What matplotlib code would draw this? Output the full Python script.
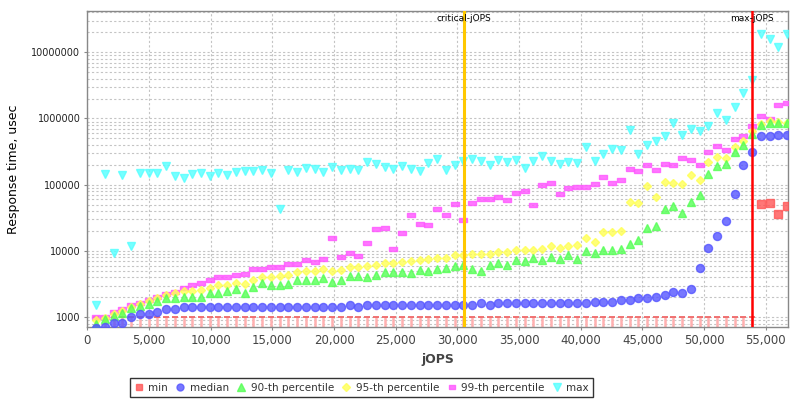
import matplotlib
matplotlib.use('Agg')
import matplotlib.pyplot as plt
import matplotlib.transforms as mtransforms
from matplotlib.lines import Line2D
from matplotlib.ticker import FixedLocator, FuncFormatter, LogLocator, NullFormatter

# --- data (jOPS vs response time, usec) ---
jops = [709, 1418, 2127, 2836, 3545, 4254, 4963, 5672, 6381, 7090,
        7799, 8508, 9217, 9926, 10635, 11344, 12053, 12762, 13471, 14180,
        14889, 15598, 16307, 17016, 17725, 18434, 19143, 19852, 20561, 21270,
        21979, 22688, 23397, 24106, 24815, 25524, 26233, 26942, 27651, 28360,
        29069, 29778, 30487, 31196, 31905, 32614, 33323, 34032, 34741, 35450,
        36159, 36868, 37577, 38286, 38995, 39704, 40413, 41122, 41831, 42540,
        43249, 43958, 44667, 45376, 46085, 46794, 47503, 48212, 48921, 49630,
        50339, 51048, 51757, 52466, 53175, 53884, 54593, 55302, 56011, 56720]

min_rt = [1000, 1000, 1000, 1000, 1000, 1000, 1000, 1000, 1000, 1000,
          1000, 1000, 1000, 1000, 1000, 1000, 1000, 1000, 1000, 1000,
          1000, 1000, 1000, 1000, 1000, 1000, 1000, 1000, 1000, 1000,
          1000, 1000, 1000, 1000, 1000, 1000, 1000, 1000, 1000, 1000,
          1000, 1000, 1000, 1000, 1000, 1000, 1000, 1000, 1000, 1000,
          1000, 1000, 1000, 1000, 1000, 1000, 1000, 1000, 1000, 1000,
          1000, 1000, 1000, 1000, 1000, 1000, 1000, 1000, 1000, 1000,
          1000, 1000, 1000, 1000, 1000, 1000, 51700, 52970, 36540, 47220]

median_rt = [680, 722, 812, 812, 1010, 1122, 1122, 1215, 1320, 1320,
             1430, 1430, 1430, 1430, 1430, 1430, 1430, 1430, 1430, 1415,
             1415, 1415, 1415, 1415, 1415, 1415, 1415, 1415, 1415, 1517,
             1415, 1517, 1517, 1517, 1517, 1517, 1517, 1517, 1517, 1533,
             1533, 1533, 1533, 1533, 1626, 1533, 1626, 1626, 1626, 1626,
             1626, 1626, 1626, 1626, 1626, 1626, 1626, 1719, 1719, 1719,
             1823, 1823, 1935, 1935, 2046, 2147, 2432, 2326, 2644, 5600,
             10990, 17010, 28050, 72400, 196200, 311300, 548000, 548000, 567700, 567700]

p90_rt = [801, 933, 1046, 1149, 1367, 1480, 1587, 1762, 1935, 1935,
          2046, 2046, 2024, 2350, 2350, 2493, 2644, 2350, 2835, 3258,
          3103, 3103, 3212, 3652, 3652, 3652, 3954, 3373, 3652, 4237,
          4150, 4011, 4300, 4821, 4821, 4821, 4710, 5166, 4940, 5408,
          5541, 6040, 6085, 5353, 4909, 6085, 6480, 6085, 7443, 7063,
          7925, 7316, 8200, 7650, 8790, 7570, 9900, 9420, 10280, 10350,
          10610, 12620, 14650, 21990, 24090, 43460, 47730, 37040, 54300, 69180,
          144900, 193600, 203200, 308200, 397000, 587500, 794700, 843000, 843000, 843000]

p95_rt = [900, 960, 1121, 1245, 1445, 1587, 1762, 1954, 2147, 2301,
          2466, 2493, 2608, 2796, 3070, 3070, 3258, 3177, 3652, 3984,
          4011, 4237, 4390, 4773, 4940, 4940, 5297, 5044, 5166, 5736,
          5736, 5940, 6150, 6660, 6524, 6823, 6990, 7316, 7499, 7925,
          7838, 8610, 8790, 8915, 9010, 9110, 9660, 9660, 10350, 10350,
          10460, 10830, 11780, 11090, 11780, 12450, 15870, 13520, 19210, 19350,
          19820, 55450, 52420, 95550, 65900, 109800, 105000, 102500, 138600, 116500,
          222300, 264400, 255400, 374300, 451400, 638500, 831800, 903900, 882500, 853100]

p99_rt = [1000, 1000, 1215, 1320, 1530, 1625, 1822, 2024, 2245, 2432,
          2737, 3040, 3326, 3652, 4053, 4053, 4345, 4548, 5300, 5350,
          5675, 5795, 6430, 6430, 7390, 6900, 7500, 15880, 8200, 9230,
          8490, 13200, 21250, 22230, 10830, 18880, 34530, 25280, 24420, 42560,
          35300, 51160, 29360, 52970, 60830, 60830, 65900, 58180, 75720, 79470,
          49430, 97950, 106100, 71640, 90140, 92270, 92270, 103500, 129400, 107200,
          116500, 172600, 159300, 196200, 168400, 203200, 196200, 252800, 238500, 200500,
          308200, 379500, 333600, 494500, 543000, 767800, 1098000, 979000, 1592000, 1707000]

max_rt = [1533, 145000, 9420, 140000, 11900, 152000, 150000, 149000, 190000, 135000,
          128000, 144000, 150000, 134000, 150000, 140000, 156000, 163000, 163000, 167000,
          149000, 42600, 167000, 157000, 180000, 174000, 157000, 185000, 167000, 173000,
          168000, 218000, 203000, 187000, 174000, 191000, 174000, 163000, 212000, 244000,
          167000, 198000, 228000, 247000, 230000, 196000, 238000, 218000, 238000, 180000,
          228000, 271000, 228000, 207000, 220000, 210000, 366000, 228000, 294000, 342000,
          334000, 668000, 288000, 393000, 456000, 537000, 853000, 562000, 692000, 646000,
          768000, 1206000, 955000, 1501000, 2390000, 3760000, 18750000, 15770000, 11810000, 18750000]

critical_jops = 30500
max_jops = 53884

x_ticks = [0, 5000, 10000, 15000, 20000, 25000, 30000, 35000, 40000, 45000, 50000, 55000]
y_ticks = [1000, 10000, 100000, 1000000, 10000000]

# --- colours ---
C_MIN = '#FF5555'
C_MEDIAN = '#5555FF'
C_P90 = '#55FF55'
C_P95 = '#FFFF55'
C_P99 = '#FF55FF'
C_MAX = '#55FFFF'
C_GRID = '#C4C4C4'
C_AXIS = '#888888'

Y_LOW, Y_HIGH = 706, 4.24e7
X_LOW, X_HIGH = 0, 56800

flat_rect = [(-1, -0.6), (1, -0.6), (1, 0.6), (-1, 0.6), (-1, -0.6)]

fig = plt.figure(figsize=(8, 4), dpi=100, facecolor='white')
ax = fig.add_axes([0.1091, 0.1818, 0.876, 0.7915])
ax.set_yscale('log')
ax.set_xlim(X_LOW, X_HIGH)
ax.set_ylim(Y_LOW, Y_HIGH)

# min values at the floor are drawn as small "T" bars, the rest as squares
floor_x = [x for x, v in zip(jops, min_rt) if v <= 1000]
floor_y = [v for v in min_rt if v <= 1000]
high_x = [x for x, v in zip(jops, min_rt) if v > 1000]
high_y = [v for v in min_rt if v > 1000]
ax.vlines(floor_x, Y_LOW, floor_y, colors='#FFB0B0', linewidth=1.8, zorder=2)
ax.plot(floor_x, floor_y, ls='none', marker='_', ms=5, mew=1.3, color='#F06868', zorder=2)

series = [
    (max_rt, C_MAX, 'v', 6.3, 3),
    (p99_rt, C_P99, flat_rect, 5.8, 4),
    (p95_rt, C_P95, 'D', 4.3, 5),
    (p90_rt, C_P90, '^', 6.3, 6),
    (median_rt, C_MEDIAN, 'o', 5.8, 7),
]
for vals, col, mk, ms, z in series:
    ax.plot(jops, vals, ls='none', marker=mk, ms=ms, color=col, mec=col, alpha=0.8, zorder=z)
ax.plot(high_x, high_y, ls='none', marker='s', ms=5.5, color=C_MIN, mec=C_MIN, alpha=0.8, zorder=8)

# critical / max jOPS markers
ax.axvline(critical_jops, color='#FFC800', linewidth=2.2, zorder=9)
ax.axvline(max_jops, color='#FF0000', linewidth=1.8, zorder=9)
trans = mtransforms.blended_transform_factory(ax.transData, ax.transAxes)
ax.text(critical_jops, 0.974, 'critical-jOPS', transform=trans, ha='center', va='center',
        fontsize=6.5, color='black', zorder=10)
ax.text(max_jops, 0.974, 'max-jOPS', transform=trans, ha='center', va='center',
        fontsize=6.5, color='black', zorder=10)

# axes, ticks, grid
ax.xaxis.set_major_locator(FixedLocator(x_ticks))
ax.xaxis.set_major_formatter(FuncFormatter(lambda v, p: f'{int(v):,}'))
ax.yaxis.set_major_locator(FixedLocator(y_ticks))
ax.yaxis.set_major_formatter(FuncFormatter(lambda v, p: f'{int(round(v))}'))
ax.yaxis.set_minor_locator(LogLocator(base=10, subs=[2, 3, 4, 5, 6, 7, 8, 9]))
ax.yaxis.set_minor_formatter(NullFormatter())

ax.grid(True, which='major', axis='x', color=C_GRID, linestyle=(0, (2, 2)), linewidth=0.8)
ax.grid(True, which='both', axis='y', color=C_GRID, linestyle=(0, (2, 2)), linewidth=0.8)
ax.set_axisbelow(True)

ax.tick_params(axis='x', which='major', direction='out', length=2, color=C_AXIS, labelsize=8.5,
               labelcolor='#444444', pad=3)
ax.tick_params(axis='y', which='major', direction='out', length=2, color=C_AXIS, labelsize=7,
               labelcolor='#222222', pad=3)
ax.tick_params(axis='y', which='minor', length=0)
for sp in ax.spines.values():
    sp.set_color(C_AXIS)
    sp.set_linewidth(1.0)

ax.set_xlabel('jOPS', fontsize=9, fontweight='bold', color='#444444', labelpad=4)
ax.set_ylabel('Response time, usec', fontsize=9, color='black', labelpad=8)

# legend
handles = [
    Line2D([], [], ls='none', marker='s', ms=5, color=C_MIN, alpha=0.8, label='min'),
    Line2D([], [], ls='none', marker='o', ms=5, color=C_MEDIAN, alpha=0.8, label='median'),
    Line2D([], [], ls='none', marker='^', ms=5.5, color=C_P90, alpha=0.8, label='90-th percentile'),
    Line2D([], [], ls='none', marker='D', ms=4, color=C_P95, alpha=0.8, label='95-th percentile'),
    Line2D([], [], ls='none', marker=flat_rect, ms=5, color=C_P99, alpha=0.8, label='99-th percentile'),
    Line2D([], [], ls='none', marker='v', ms=5.5, color=C_MAX, alpha=0.8, label='max'),
]
leg = fig.legend(handles=handles, loc='center', bbox_to_anchor=(0.452, 0.0305), ncol=6,
                 fontsize=7.5, frameon=True, fancybox=False, edgecolor='black',
                 handlelength=0.8, handletextpad=0.5, columnspacing=0.8,
                 borderpad=0.45, borderaxespad=0)
leg.get_frame().set_linewidth(1.0)
for t in leg.get_texts():
    t.set_color('#333333')

fig.savefig('out.png', dpi=100, facecolor='white')
